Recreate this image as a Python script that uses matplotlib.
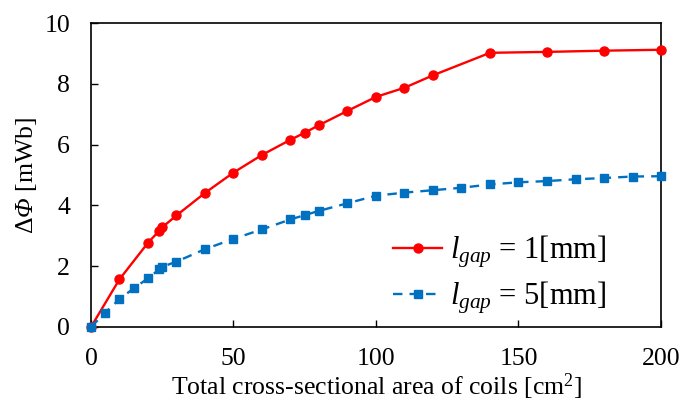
import matplotlib
matplotlib.use('Agg')
import matplotlib.pyplot as plt

# cross-sectional area [cm^2]
area_1mm = [0, 10, 20, 24, 25, 30, 40, 50, 60, 70, 75, 80, 90, 100, 110, 120, 140, 160, 180, 200]
flux_1mm = [0, 1.57, 2.77, 3.17, 3.28, 3.67, 4.41, 5.08, 5.66, 6.16, 6.39, 6.64, 7.11, 7.57, 7.87, 8.28, 9.02, 9.05, 9.09, 9.12]

area_5mm = [0, 5, 10, 15, 20, 24, 25, 30, 40, 50, 60, 70, 75, 80, 90, 100, 110, 120, 130, 140, 150, 160, 170, 180, 190, 200]
flux_5mm = [0, 0.47, 0.92, 1.27, 1.6, 1.9, 1.98, 2.15, 2.56, 2.9, 3.21, 3.54, 3.68, 3.82, 4.07, 4.32, 4.42, 4.5, 4.58, 4.69, 4.76, 4.8, 4.86, 4.9, 4.95, 4.96]

plt.rcParams['font.family'] = 'Liberation Serif'
plt.rcParams['mathtext.fontset'] = 'custom'
plt.rcParams['mathtext.rm'] = 'Liberation Serif'
plt.rcParams['mathtext.it'] = 'Liberation Serif:italic'
# italic greek capital (mathtext forces them upright in 'it')
plt.rcParams['mathtext.sf'] = 'Liberation Serif:italic'
plt.rcParams['font.size'] = 18.5

fig = plt.figure(figsize=(6.83, 4.03), dpi=100)
ax = fig.add_axes([0.1332, 0.1886, 0.8346, 0.7543])

ax.plot(area_1mm, flux_1mm, color='#FF0000', lw=1.7, marker='o', ms=6.5,
        label=r'$l_{gap}$ = 1[mm]', clip_on=False, zorder=3)
ax.plot(area_5mm, flux_5mm, color='#0070C0', lw=1.7, ls=(0, (4, 3)), marker='s', ms=6,
        label=r'$l_{gap}$ = 5[mm]', clip_on=False, zorder=3)

ax.set_xlim(0, 200)
ax.set_ylim(0, 10)
ax.set_xticks([0, 50, 100, 150, 200])
ax.set_yticks([0, 2, 4, 6, 8, 10])
ax.tick_params(direction='in', length=5, width=1, pad=15)
for s in ax.spines.values():
    s.set_linewidth(1.2)

ax.set_xlabel(r'Total cross-sectional area of coils [cm$^2$]', labelpad=1)
ax.set_ylabel(r'Δ$\mathsf{Φ}$ [mWb]', labelpad=4)

ax.legend(loc='center left', bbox_to_anchor=(0.53, 0.171), frameon=False,
          borderpad=0, borderaxespad=0,
          handlelength=1.6, handletextpad=0.25, labelspacing=0.3, fontsize=22)

fig.savefig('out.png', dpi=100)
